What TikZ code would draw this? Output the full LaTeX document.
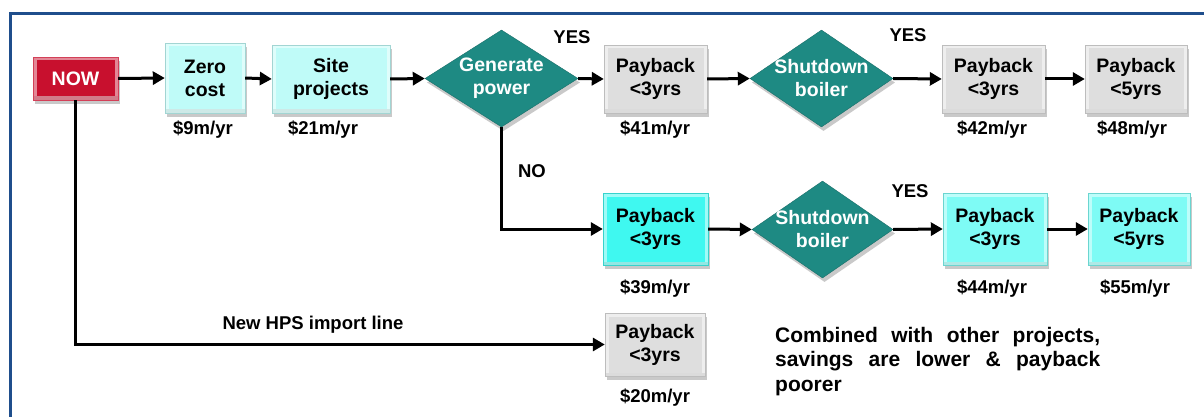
\documentclass[tikz,border=0pt]{standalone}
\usepackage{fontspec}
\setmainfont{Liberation Sans}
\usetikzlibrary{shapes.geometric,arrows.meta,shadows}
\definecolor{frameblue}{HTML}{1F4E8C}
\definecolor{nowred}{HTML}{C8102E}
\definecolor{palecyan}{HTML}{BFFBF8}
\definecolor{boxgray}{HTML}{DEDEDE}
\definecolor{brightcyan}{HTML}{3FF8F0}
\definecolor{lightcyan}{HTML}{7EFBF5}
\definecolor{teal}{HTML}{1E8A83}
\tikzset{
  bevel/.style={path picture={
    \draw[white, opacity=0.5, line width=7pt]
      (path picture bounding box.south west) rectangle (path picture bounding box.north east);
    \draw[black, opacity=0.08, line width=7pt]
      (path picture bounding box.south west) -- (path picture bounding box.south east);}},
  box/.style={rectangle, inner sep=0pt, align=center, bevel,
    font=\bfseries\fontsize{19.5}{23}\selectfont,
    drop shadow={shadow xshift=2pt, shadow yshift=-4pt, opacity=0.35, fill=black!60}},
  nowbox/.style={box, fill=nowred, draw=nowred!80!white, text=white, minimum width=85pt, minimum height=43pt},
  palebox/.style={box, fill=palecyan, draw=palecyan!85!black},
  graybox/.style={box, fill=boxgray, draw=boxgray!85!black},
  bcbox/.style={box, fill=brightcyan, draw=brightcyan!85!black},
  lcbox/.style={box, fill=lightcyan, draw=lightcyan!85!black},
  dia/.style={diamond, inner sep=0pt, fill=teal, draw=teal!80!black,
    drop shadow={shadow xshift=2pt, shadow yshift=-4pt, opacity=0.35, fill=black!60}},
  dtext/.style={inner sep=0pt, align=center, text=white, font=\bfseries\fontsize{19.5}{23}\selectfont},
  lab/.style={inner sep=0pt, font=\bfseries\fontsize{18.5}{22}\selectfont},
  arr/.style={line width=3pt, -{Triangle[length=12pt,width=13pt]}},
}
\begin{document}
\begin{tikzpicture}[x=1pt,y=-1pt]
\useasboundingbox (0,0) rectangle (1204,417);
\fill[white] (0,0) rectangle (1204,417);
\draw[frameblue, line width=3pt] (10.5,417) -- (10.5,13.5) -- (1204,13.5);

% row 1
\node[nowbox] (now) at (75.5,78.5) {NOW};
\node[palebox, minimum width=80pt, minimum height=70pt] (zero) at (205,78) {Zero\\cost};
\node[palebox, minimum width=118pt, minimum height=68pt] (site) at (331,79) {Site\\projects};
\node[dia, minimum width=153pt, minimum height=97pt] (gp) at (501.5,78.5) {};
\node[dtext] (gpt) at (gp) {Generate\\power};
\node[graybox, minimum width=103pt, minimum height=68pt] (pb1) at (655.5,79) {Payback\\<3yrs};
\node[dia, minimum width=143pt, minimum height=97pt] (sd1) at (821.5,78.5) {};
\node[dtext] (sd1t) at (sd1) {Shutdown\\boiler};
\node[graybox, minimum width=103pt, minimum height=68pt] (pb2) at (993.5,79) {Payback\\<3yrs};
\node[graybox, minimum width=102pt, minimum height=68pt] (pb3) at (1136,79) {Payback\\<5yrs};

% row 2
\node[bcbox, minimum width=105pt, minimum height=72pt] (pc1) at (655.5,229) {Payback\\<3yrs};
\node[dia, minimum width=141pt, minimum height=97pt] (sd2) at (822.5,229.5) {};
\node[dtext] (sd2t) at (sd2) {Shutdown\\boiler};
\node[lcbox, minimum width=104pt, minimum height=72pt] (pc2) at (995,229) {Payback\\<3yrs};
\node[lcbox, minimum width=102pt, minimum height=72pt] (pc3) at (1139,229) {Payback\\<5yrs};

% row 3
\node[graybox, minimum width=100pt, minimum height=63pt] (pb4) at (655,344.5) {Payback\\<3yrs};

% value labels
\node[lab] (l1) at (203,130) {\$9m/yr};
\node[lab] (l2) at (323,130) {\$21m/yr};
\node[lab] (l3) at (655,130) {\$41m/yr};
\node[lab] (l4) at (992,130) {\$42m/yr};
\node[lab] (l5) at (1132,130) {\$48m/yr};
\node[lab] (l6) at (655,289) {\$39m/yr};
\node[lab] (l7) at (992,289) {\$44m/yr};
\node[lab] (l8) at (1135,289) {\$55m/yr};
\node[lab] (l9) at (655,398) {\$20m/yr};

\node[lab] (yes1) at (572,37) {YES};
\node[lab] (yes2) at (908,35) {YES};
\node[lab] (no) at (532,171) {NO};
\node[lab] (yes3) at (910,191) {YES};
\node[lab] (hps) at (313,325) {New HPS import line};
\node[lab, anchor=north west, align=left,
  font=\bfseries\fontsize{21}{24.5}\selectfont] (note) at (775,327)
  {\hbox to 325pt{Combined\hfill with\hfill other\hfill projects,}\\
   \hbox to 325pt{savings\hfill are\hfill lower\hfill \&\hfill payback}\\
   poorer};

% connectors
\draw[arr] (now.east) -- (zero.west);
\draw[arr] (zero.east) -- (site.west);
\draw[arr] (site.east) -- (gp.west);
\draw[arr] (gp.east) -- (pb1.west);
\draw[arr] (pb1.east) -- (sd1.west);
\draw[arr] (sd1.east) -- (pb2.west);
\draw[arr] (pb2.east) -- (pb3.west);
\draw[arr] (gp.south) |- (pc1.west);
\draw[arr] (pc1.east) -- (sd2.west);
\draw[arr] (sd2.east) -- (pc2.west);
\draw[arr] (pc2.east) -- (pc3.west);
\draw[arr] (now.south) |- (pb4.west);
\end{tikzpicture}
\end{document}
